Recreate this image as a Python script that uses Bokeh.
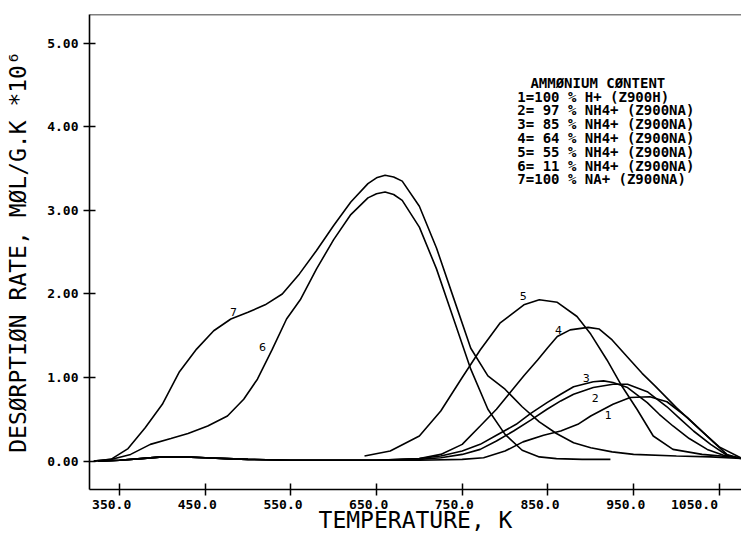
from bokeh.plotting import figure
from bokeh.models import Range1d, FixedTicker, NumeralTickFormatter, Label, Span
from bokeh.embed import file_html
from bokeh.resources import INLINE

# ---------------- data ----------------
x_ticks = [350, 450, 550, 650, 750, 850, 950, 1050]
x_tick_labels = ["350.0", "450.0", "550.0", "650.0", "750.0", "850.0", "950.0", "1050.0"]
y_ticks = [0, 1, 2, 3, 4, 5]

t1 = [325, 350, 375, 400, 425, 450, 475, 500, 550, 600, 650, 700, 750, 775, 800, 821, 845, 865, 885, 900, 926, 946, 969, 989, 1013, 1043, 1059, 1075]
r1 = [0.00, 0.01, 0.03, 0.05, 0.05, 0.04, 0.03, 0.02, 0.01, 0.01, 0.01, 0.01, 0.02, 0.04, 0.12, 0.23, 0.31, 0.36, 0.44, 0.54, 0.68, 0.76, 0.77, 0.71, 0.52, 0.23, 0.08, 0.03]

t2 = [325, 350, 375, 400, 425, 450, 475, 500, 550, 600, 650, 700, 725, 750, 771, 790, 810, 830, 849, 865, 880, 903, 926, 943, 966, 989, 1005, 1020, 1040, 1059, 1075]
r2 = [0.00, 0.01, 0.03, 0.05, 0.05, 0.04, 0.03, 0.02, 0.01, 0.01, 0.01, 0.02, 0.04, 0.08, 0.14, 0.24, 0.36, 0.49, 0.62, 0.72, 0.80, 0.88, 0.92, 0.92, 0.83, 0.65, 0.50, 0.36, 0.20, 0.07, 0.03]

t3 = [325, 350, 375, 400, 425, 450, 475, 500, 550, 600, 650, 700, 725, 750, 771, 790, 813, 830, 849, 865, 880, 903, 915, 926, 943, 966, 980, 996, 1015, 1036, 1055, 1075]
r3 = [0.00, 0.01, 0.03, 0.05, 0.05, 0.04, 0.03, 0.02, 0.01, 0.01, 0.01, 0.03, 0.06, 0.12, 0.20, 0.31, 0.44, 0.57, 0.70, 0.80, 0.89, 0.95, 0.96, 0.94, 0.88, 0.70, 0.56, 0.42, 0.27, 0.14, 0.07, 0.03]

t4 = [325, 350, 375, 400, 425, 450, 475, 500, 550, 600, 650, 700, 725, 750, 771, 790, 806, 822, 838, 850, 861, 876, 897, 910, 925, 946, 960, 975, 1000, 1025, 1050, 1075]
r4 = [0.00, 0.01, 0.03, 0.05, 0.05, 0.04, 0.03, 0.02, 0.01, 0.01, 0.01, 0.03, 0.08, 0.20, 0.42, 0.62, 0.82, 1.02, 1.21, 1.36, 1.49, 1.57, 1.60, 1.58, 1.45, 1.21, 1.05, 0.90, 0.64, 0.40, 0.17, 0.04]

t5 = [636, 666, 700, 725, 750, 771, 794, 822, 840, 861, 884, 900, 919, 935, 954, 973, 996, 1030, 1075]
r5 = [0.06, 0.12, 0.30, 0.60, 1.00, 1.33, 1.65, 1.87, 1.93, 1.90, 1.73, 1.52, 1.21, 0.92, 0.62, 0.30, 0.14, 0.08, 0.04]

t6 = [320, 340, 363, 386, 410, 430, 453, 476, 495, 511, 528, 545, 561, 580, 600, 620, 640, 650, 660, 670, 680, 700, 720, 740, 760, 780, 800, 820, 840, 860, 890, 923]
r6 = [0.00, 0.02, 0.08, 0.20, 0.27, 0.33, 0.42, 0.54, 0.74, 0.98, 1.33, 1.70, 1.93, 2.30, 2.65, 2.95, 3.15, 3.20, 3.22, 3.19, 3.12, 2.80, 2.30, 1.70, 1.10, 0.62, 0.32, 0.13, 0.05, 0.03, 0.02, 0.02]

t7 = [320, 340, 360, 380, 400, 420, 440, 460, 480, 500, 520, 540, 560, 580, 600, 620, 640, 650, 660, 670, 680, 700, 720, 740, 760, 780, 800, 820, 840, 860, 880, 900, 925, 950, 1000, 1040, 1076]
r7 = [0.00, 0.02, 0.15, 0.40, 0.68, 1.07, 1.34, 1.56, 1.70, 1.78, 1.87, 2.00, 2.24, 2.52, 2.82, 3.10, 3.32, 3.39, 3.42, 3.40, 3.35, 3.05, 2.55, 1.95, 1.35, 1.02, 0.86, 0.65, 0.47, 0.33, 0.22, 0.16, 0.11, 0.08, 0.06, 0.05, 0.03]

curve_names = ["1", "2", "3", "4", "5", "6", "7"]
legend_title = "AMMØNIUM CØNTENT"
legend_rows = [
    "1=100 % H+ (Z900H)",
    "2= 97 % NH4+ (Z900NA)",
    "3= 85 % NH4+ (Z900NA)",
    "4= 64 % NH4+ (Z900NA)",
    "5= 55 % NH4+ (Z900NA)",
    "6= 11 % NH4+ (Z900NA)",
    "7=100 % NA+ (Z900NA)",
]

# ---------------- layout / style ----------------
MONO = "DejaVu Sans Mono"
curves = [(t1, r1), (t2, r2), (t3, r3), (t4, r4), (t5, r5), (t6, r6), (t7, r7)]
# annotation anchor points (data units) for the curve numbers
label_pos = [(920.6, 0.55), (905.4, 0.76), (894.9, 1.00), (862.3, 1.57),
             (821.4, 1.97), (516.9, 1.37), (483.0, 1.78)]

p = figure(width=741, height=535, output_backend="svg", toolbar_location=None,
           x_range=Range1d(315, 1076), y_range=Range1d(-0.34, 5.344),
           min_border_left=89, min_border_right=0, min_border_top=14,
           min_border_bottom=45)
p.outline_line_color = None
p.grid.visible = False
p.background_fill_color = "white"
p.border_fill_color = "white"

for t, r in curves:
    p.line(t, r, line_color="black", line_width=1.6)

p.add_layout(Span(location=5.344, dimension="width", line_color="black", line_width=1.6))

xa = p.xaxis[0]
ya = p.yaxis[0]
xa.ticker = FixedTicker(ticks=x_ticks)
ya.ticker = FixedTicker(ticks=y_ticks)
ya.formatter = NumeralTickFormatter(format="0.00")
# decimal point of each label sits on its tick (plotter style)
xa.major_label_overrides = {
    t: lab + "\u00a0" * (2 * lab.index(".") + 1 - len(lab))
    for t, lab in zip(x_ticks, x_tick_labels)
}
for ax in (xa, ya):
    ax.major_tick_in = 6
    ax.major_tick_out = 6
    ax.minor_tick_line_color = None
    ax.axis_line_color = "black"
    ax.axis_line_width = 1.6
    ax.major_tick_line_color = "black"
    ax.major_tick_line_width = 1.5
    ax.major_label_text_font = MONO
    ax.major_label_text_font_style = "bold"
    ax.major_label_text_font_size = "13px"
    ax.major_label_text_color = "black"
    ax.axis_label_text_font = MONO
    ax.axis_label_text_font_style = "normal"
    ax.axis_label_text_font_size = "23px"
    ax.axis_label_text_color = "black"
xa.major_label_standoff = 1
xa.axis_label_standoff = -8
ya.major_label_standoff = 5
ya.axis_label_standoff = 13
xa.axis_label = "TEMPERATURE, K"
ya.axis_label = "DESØRPTIØN RATE, MØL/G.K *10⁶"

for name, (lx, ly) in zip(curve_names, label_pos):
    p.add_layout(Label(x=lx, y=ly, text=name, text_align="center",
                       text_baseline="middle", text_font="DejaVu Sans",
                       text_font_size="11px", text_color="black"))

p.add_layout(Label(x=829.6, y=4.53, text=legend_title, text_align="left",
                   text_baseline="middle", text_font=MONO, text_font_style="bold",
                   text_font_size="14px", text_color="black"))
for i, row in enumerate(legend_rows):
    p.add_layout(Label(x=814.4, y=4.36 - 0.1647 * i, text=row, text_align="left",
                       text_baseline="middle", text_font=MONO, text_font_style="bold",
                       text_font_size="14px", text_color="black"))

open("out.html", "w").write(file_html(p, INLINE))
